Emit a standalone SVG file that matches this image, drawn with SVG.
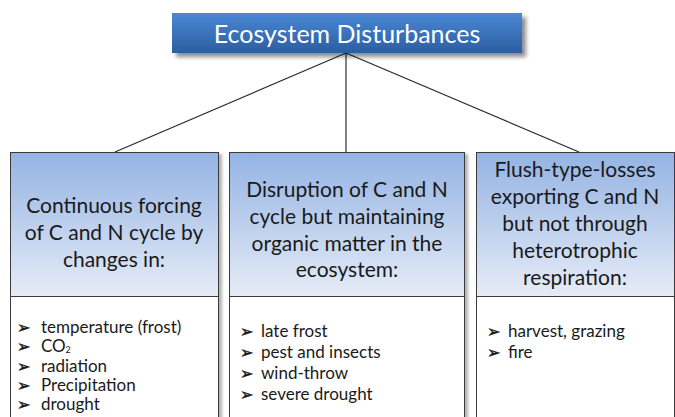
<svg xmlns="http://www.w3.org/2000/svg" width="675" height="417" viewBox="0 0 675 417">
<defs>
  <linearGradient id="gTop" x1="0" y1="0" x2="0" y2="1">
    <stop offset="0" stop-color="#4A87D6"/>
    <stop offset="1" stop-color="#2D5E9F"/>
  </linearGradient>
  <linearGradient id="gHead" x1="0" y1="0" x2="0" y2="1">
    <stop offset="0" stop-color="#94B3E3"/>
    <stop offset="1" stop-color="#E6ECF7"/>
  </linearGradient>
  <filter id="sh" x="-10%" y="-20%" width="130%" height="160%">
    <feGaussianBlur in="SourceAlpha" stdDeviation="2"/>
    <feOffset dx="4" dy="4" result="b"/>
    <feComponentTransfer><feFuncA type="linear" slope="0.45"/></feComponentTransfer>
    <feMerge><feMergeNode/><feMergeNode in="SourceGraphic"/></feMerge>
  </filter>
  <filter id="sh2" x="-10%" y="-10%" width="130%" height="130%">
    <feGaussianBlur in="SourceAlpha" stdDeviation="1.5"/>
    <feOffset dx="3" dy="2" result="b"/>
    <feComponentTransfer><feFuncA type="linear" slope="0.3"/></feComponentTransfer>
    <feMerge><feMergeNode/><feMergeNode in="SourceGraphic"/></feMerge>
  </filter>
</defs>
<style>
  .hd { font-family: Lato, "Liberation Sans", sans-serif; font-size: 21px; fill: #1a1a1a; text-anchor: middle; }
  .li { font-family: Lato, "Liberation Sans", sans-serif; font-size: 17px; fill: #1a1a1a; }
  .bu { font-family: "DejaVu Sans", sans-serif; font-size: 16px; fill: #1a1a1a; stroke: #1a1a1a; stroke-width: 0.4; }
  .box { stroke: #3a3a3a; stroke-width: 1; }
  .conn { stroke: #2a2a2a; stroke-width: 1.2; fill: none; }
</style>

<g id="connectors">
  <line class="conn" x1="346" y1="53" x2="115" y2="152"/>
  <line class="conn" x1="346" y1="53" x2="346" y2="152"/>
  <line class="conn" x1="346" y1="53" x2="579" y2="152"/>
</g>

<g id="root">
  <rect x="172" y="13" width="350" height="40" fill="url(#gTop)" filter="url(#sh)"/>
  <text x="347" y="43" font-family="Lato, 'Liberation Sans', sans-serif" font-size="25" fill="#ffffff" text-anchor="middle">Ecosystem Disturbances</text>
</g>

<g id="node-continuous">
  <g filter="url(#sh2)">
    <rect class="box" x="10.5" y="152.5" width="208" height="270" fill="#ffffff"/>
    <rect class="box" x="10.5" y="152.5" width="208" height="144" fill="url(#gHead)"/>
  </g>
  <text class="hd" x="114" y="213">Continuous forcing</text>
  <text class="hd" x="114" y="240">of C and N cycle by</text>
  <text class="hd" x="114" y="267">changes in:</text>
  <text class="bu" x="17" y="333">➢</text><text class="li" x="41" y="333">temperature (frost)</text>
  <text class="bu" x="17" y="352">➢</text><text class="li" x="41" y="352">CO</text><text x="65.5" y="353" font-family="Lato, 'Liberation Sans', sans-serif" font-size="9" fill="#1a1a1a">2</text>
  <text class="bu" x="17" y="371.5">➢</text><text class="li" x="41" y="371.5">radiation</text>
  <text class="bu" x="17" y="390.5">➢</text><text class="li" x="41" y="390.5">Precipitation</text>
  <text class="bu" x="17" y="409.5">➢</text><text class="li" x="41" y="409.5">drought</text>
</g>

<g id="node-disruption">
  <g filter="url(#sh2)">
    <rect class="box" x="229.5" y="152.5" width="235" height="270" fill="#ffffff"/>
    <rect class="box" x="229.5" y="152.5" width="235" height="144" fill="url(#gHead)"/>
  </g>
  <text class="hd" x="347" y="197">Disruption of C and N</text>
  <text class="hd" x="347" y="224">cycle but maintaining</text>
  <text class="hd" x="347" y="251">organic matter in the</text>
  <text class="hd" x="347" y="277">ecosystem:</text>
  <text class="bu" x="240" y="337">➢</text><text class="li" x="261" y="337">late frost</text>
  <text class="bu" x="240" y="358">➢</text><text class="li" x="261" y="358">pest and insects</text>
  <text class="bu" x="240" y="379">➢</text><text class="li" x="261" y="379">wind-throw</text>
  <text class="bu" x="240" y="400">➢</text><text class="li" x="261" y="400">severe drought</text>
</g>

<g id="node-flush">
  <g filter="url(#sh2)">
    <rect class="box" x="476.5" y="152.5" width="198" height="270" fill="#ffffff"/>
    <rect class="box" x="476.5" y="152.5" width="198" height="144" fill="url(#gHead)"/>
  </g>
  <text class="hd" x="575" y="177">Flush-type-losses</text>
  <text class="hd" x="575" y="204">exporting C and N</text>
  <text class="hd" x="575" y="231">but not through</text>
  <text class="hd" x="575" y="258">heterotrophic</text>
  <text class="hd" x="575" y="285">respiration:</text>
  <text class="bu" x="487" y="337">➢</text><text class="li" x="508" y="337">harvest, grazing</text>
  <text class="bu" x="487" y="358">➢</text><text class="li" x="508" y="358">fire</text>
</g>
</svg>
